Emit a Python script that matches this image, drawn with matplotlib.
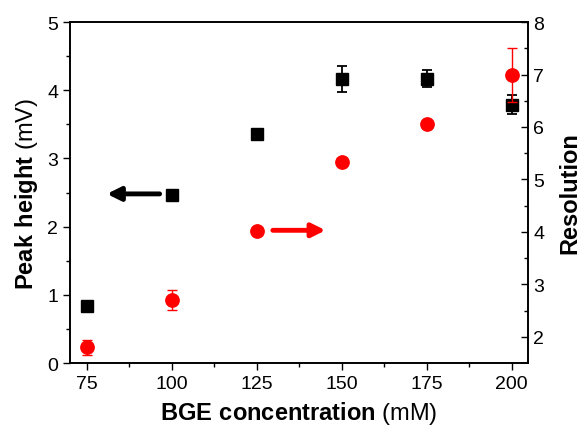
import numpy as np
import matplotlib.pyplot as plt

plt.rcParams['font.family'] = ['Liberation Sans', 'DejaVu Sans']
plt.rcParams['mathtext.fontset'] = 'custom'
plt.rcParams['mathtext.rm'] = 'Liberation Sans'
plt.rcParams['mathtext.bf'] = 'Liberation Sans:bold'

# data
conc = [75, 100, 125, 150, 175, 200]
peak = [0.83, 2.46, 3.36, 4.16, 4.17, 3.79]
peak_err = [0.04, 0.04, 0.04, 0.19, 0.12, 0.14]
res = [1.80, 2.70, 4.02, 5.34, 6.06, 6.99]
res_err = [0.14, 0.19, 0.04, 0.05, 0.08, 0.51]

fig = plt.figure(figsize=(5.82, 4.27), dpi=100)
ax = fig.add_axes([0.120, 0.1475, 0.787, 0.7985])
ax2 = ax.twinx()

ax.errorbar(conc, peak, yerr=peak_err, fmt='s', color='black', ms=8.6,
            capsize=3.3, elinewidth=1.3, capthick=1.3, zorder=3)
ax2.errorbar(conc, res, yerr=res_err, fmt='o', color='red', ms=9.6,
             capsize=3.3, elinewidth=1.0, capthick=1.0, zorder=3)

ax.set_xlim(70.1, 204.8)
ax.set_ylim(0, 5)
ax2.set_ylim(1.5, 8)

ax.set_xticks([75, 100, 125, 150, 175, 200])
ax.set_xticks(np.arange(87.5, 200, 25), minor=True)
ax.set_yticks([0, 1, 2, 3, 4, 5])
ax.set_yticks(np.arange(0.5, 5, 1), minor=True)
ax2.set_yticks([2, 3, 4, 5, 6, 7, 8])
ax2.set_yticks(np.arange(2.5, 8, 1), minor=True)

ax.tick_params(axis='both', which='major', direction='out', length=5, width=1,
               labelsize=14, top=False, right=False)
ax.tick_params(axis='both', which='minor', direction='out', length=3, width=1,
               top=False, right=False)
ax2.tick_params(axis='y', which='major', direction='in', length=5, width=1,
                labelsize=14, pad=4)
ax2.tick_params(axis='y', which='minor', direction='in', length=3, width=1)
ax2.tick_params(axis='x', which='major', direction='in', length=5, width=1,
                top=True, bottom=False, labeltop=False, labelbottom=False)
ax2.tick_params(axis='x', which='minor', direction='in', length=3, width=1,
                top=True, bottom=False)

for a in (ax, ax2):
    for s in a.spines.values():
        s.set_linewidth(1.2)

ax.set_xlabel(r'$\mathbf{BGE\ concentration}$ (mM)', fontsize=17, labelpad=5)
ax.set_ylabel(r'$\mathbf{Peak\ height}$ (mV)', fontsize=17, labelpad=5)
ax2.set_ylabel('Resolution', fontsize=17, fontweight='bold', labelpad=10)

ax.annotate('', xy=(81.0, 2.48), xytext=(96.5, 2.48),
            arrowprops=dict(arrowstyle='-|>', color='black', lw=3.5,
                            mutation_scale=20, shrinkA=0, shrinkB=0))
ax2.annotate('', xy=(145.3, 4.03), xytext=(129.8, 4.03),
             arrowprops=dict(arrowstyle='-|>', color='red', lw=3.5,
                             mutation_scale=20, shrinkA=0, shrinkB=0))

fig.savefig('out.png', dpi=100)
